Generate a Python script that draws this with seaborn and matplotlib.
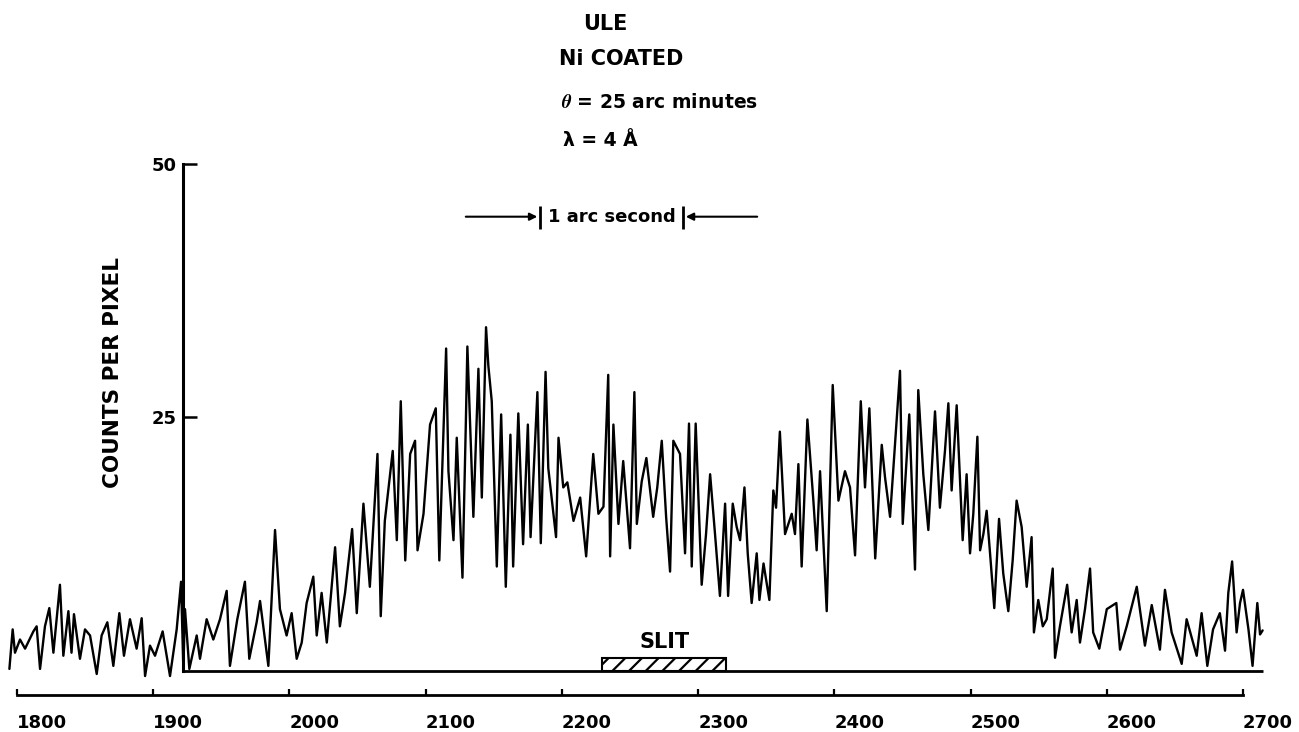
import matplotlib
matplotlib.use("Agg")
import matplotlib.pyplot as plt
import seaborn as sns
import pandas as pd
from matplotlib.patches import Rectangle

# ---------------- data ----------------
position = [
    1794.4, 1796.8, 1798.5, 1802.2, 1805.9, 1812.0, 1814.4, 1816.9, 1820.5, 1823.7,
    1826.7, 1831.5, 1834.0, 1837.7, 1840.0, 1841.8, 1846.2, 1849.9, 1853.6, 1858.5,
    1862.1, 1866.3, 1870.7, 1875.1, 1878.5, 1882.9, 1887.8, 1891.5, 1894.0, 1897.6,
    1901.3, 1906.9, 1912.3, 1917.2, 1920.4, 1922.1, 1923.3, 1926.5, 1931.9, 1934.3,
    1939.2, 1944.1, 1949.0, 1953.9, 1956.3, 1961.7, 1967.3, 1970.5, 1975.9, 1978.4,
    1984.5, 1989.4, 1993.0, 1997.9, 2001.6, 2005.3, 2009.0, 2012.6, 2017.5, 2020.0,
    2023.6, 2027.4, 2033.5, 2037.0, 2040.8, 2046.0, 2049.4, 2054.3, 2059.0, 2064.6,
    2067.0, 2070.0, 2075.8, 2078.8, 2081.7, 2085.0, 2088.6, 2092.2, 2094.0, 2098.4,
    2103.2, 2107.4, 2110.0, 2115.0, 2116.7, 2120.4, 2122.8, 2127.0, 2129.4, 2130.6,
    2135.0, 2138.7, 2141.2, 2144.3, 2146.0, 2148.5, 2152.2, 2155.4, 2158.8, 2162.2,
    2164.2, 2168.0, 2171.5, 2175.0, 2177.0, 2182.0, 2184.5, 2188.0, 2190.0, 2195.7,
    2197.5, 2201.0, 2204.0, 2208.5, 2213.4, 2217.8, 2223.0, 2226.8, 2230.5, 2234.0,
    2235.4, 2237.8, 2241.5, 2245.0, 2250.0, 2253.2, 2255.0, 2258.6, 2262.0, 2267.0,
    2270.0, 2273.3, 2276.5, 2279.4, 2281.8, 2286.7, 2290.4, 2293.3, 2295.3, 2298.2,
    2302.6, 2305.8, 2308.8, 2312.4, 2316.0, 2319.8, 2322.0, 2325.4, 2328.3, 2330.8,
    2334.0, 2336.4, 2339.3, 2343.0, 2345.0, 2348.0, 2352.3, 2355.2, 2357.2, 2360.0,
    2363.8, 2368.7, 2371.1, 2373.6, 2376.0, 2380.2, 2384.6, 2387.0, 2389.5, 2394.4,
    2398.8, 2403.0, 2407.8, 2411.5, 2415.2, 2419.4, 2422.5, 2425.7, 2430.0, 2434.8,
    2437.2, 2440.9, 2448.2, 2450.2, 2455.0, 2459.2, 2461.6, 2465.3, 2469.0, 2473.9,
    2477.5, 2481.2, 2483.7, 2486.1, 2489.8, 2494.2, 2497.1, 2499.6, 2502.0, 2505.0,
    2507.0, 2509.4, 2511.8, 2514.3, 2517.4, 2520.9, 2524.0, 2527.7, 2530.9, 2533.8,
    2537.5, 2541.2, 2544.8, 2546.5, 2549.7, 2553.0, 2555.9, 2560.3, 2562.0, 2565.6,
    2570.9, 2574.2, 2577.9, 2580.3, 2584.0, 2587.7, 2590.0, 2594.5, 2600.0, 2607.0,
    2609.7, 2614.6, 2622.0, 2628.0, 2633.0, 2639.0, 2642.7, 2647.6, 2655.0, 2658.6,
    2666.0, 2669.6, 2673.8, 2678.0, 2683.0, 2686.8, 2689.2, 2692.0, 2695.3, 2697.8,
    2700.0, 2704.0, 2707.0, 2710.5, 2712.5, 2714.4,
]
counts = [
    0.2, 4.1, 1.8, 3.1, 2.2, 3.9, 4.4, 0.2, 4.4, 6.2,
    1.8, 8.5, 1.5, 5.9, 1.8, 5.6, 1.2, 4.1, 3.5, -0.3,
    3.5, 4.8, 0.5, 5.7, 1.5, 5.1, 2.2, 5.2, -0.5, 2.5,
    1.5, 3.9, -0.5, 4.1, 8.8, 0.2, 6.1, 0.2, 3.5, 1.2,
    5.1, 3.1, 5.1, 7.9, 0.5, 5.1, 8.8, 1.2, 4.8, 6.9,
    0.5, 13.9, 6.1, 3.5, 5.7, 1.2, 2.8, 6.7, 9.3, 3.5,
    7.7, 2.8, 12.2, 4.4, 7.7, 14.0, 5.7, 16.5, 8.3, 21.4,
    5.4, 14.8, 21.7, 12.9, 26.6, 10.9, 21.4, 22.7, 11.9, 15.5,
    24.3, 25.9, 10.9, 31.8, 19.7, 12.9, 23.0, 9.2, 24.0, 32.0,
    15.2, 29.8, 17.1, 33.9, 30.1, 26.6, 10.3, 25.3, 8.3, 23.3,
    10.3, 25.4, 12.5, 24.3, 13.2, 27.5, 12.6, 29.5, 20.0, 13.2,
    23.0, 18.1, 18.6, 14.8, 17.1, 11.3, 21.4, 15.5, 16.2, 29.2,
    11.3, 24.3, 14.5, 20.7, 12.1, 27.5, 14.5, 18.7, 21.0, 15.2,
    18.1, 22.7, 15.2, 9.8, 22.7, 21.4, 11.6, 24.4, 10.3, 24.4,
    8.5, 13.5, 19.4, 13.5, 7.4, 16.5, 7.4, 16.5, 14.2, 12.9,
    18.1, 11.6, 6.7, 11.6, 7.0, 10.6, 7.0, 17.8, 16.1, 23.6,
    13.5, 15.5, 13.5, 20.4, 10.3, 24.8, 16.8, 11.9, 19.7, 5.9,
    28.2, 16.8, 19.7, 18.1, 11.4, 26.6, 18.1, 25.9, 11.1, 22.3,
    19.1, 15.2, 29.6, 14.5, 25.3, 10.0, 27.7, 19.4, 13.9, 25.6,
    16.1, 21.7, 26.4, 17.8, 26.2, 12.9, 19.4, 11.6, 15.5, 23.1,
    11.9, 13.5, 15.8, 11.6, 6.2, 15.0, 9.6, 5.9, 10.9, 16.8,
    14.2, 8.3, 13.2, 3.8, 7.0, 4.4, 5.1, 10.1, 1.3, 4.4,
    8.5, 3.8, 7.0, 2.8, 6.1, 10.1, 3.8, 2.2, 6.1, 6.7,
    2.1, 4.4, 8.3, 2.5, 6.5, 2.1, 8.0, 3.8, 0.7, 5.1,
    1.5, 5.7, 0.5, 4.1, 5.7, 2.0, 7.7, 10.8, 3.8, 6.7,
    8.0, 4.1, 0.5, 6.7, 3.6, 4.0,
]
x_ticks = [1800, 1900, 2000, 2100, 2200, 2300, 2400, 2500, 2600, 2700]
y_ticks = [25, 50]
y_label = "COUNTS PER PIXEL"
header_lines = ["ULE", "Ni COATED"]
angle_text = r"$\theta$ = 25 arc minutes"
wavelength_text = "λ = 4 Å"
scale_text = "1 arc second"
slit_label = "SLIT"
slit_start, slit_end, slit_height = 2229.5, 2320.5, 1.3
y_axis_at = 1921.9
scale_left, scale_right, scale_level = 2184.0, 2288.9, 44.8
arrow_left_from, arrow_right_from = 2127.4, 2345.4

# ---------------- style ----------------
sns.set_theme(style="white")
plt.rcParams["font.family"] = ["DejaVu Sans"]
plt.rcParams["font.weight"] = "bold"
plt.rcParams["mathtext.fontset"] = "stix"
plt.rcParams["hatch.linewidth"] = 1.6

W, H = 1299, 732
fig = plt.figure(figsize=(W / 100, H / 100), dpi=100)
fig.patch.set_facecolor("white")
ax = fig.add_axes([0, 0, 1, 1])
ax.set_facecolor("white")

df = pd.DataFrame({"position": position, "counts": counts})
sns.lineplot(data=df, x="position", y="counts", ax=ax, color="black",
             linewidth=1.7, estimator=None, sort=False)

ax.set_xlim(1787.5, 2741.1)
ax.set_ylim(-6.02, 66.17)

# axes
for s in ["top", "right"]:
    ax.spines[s].set_visible(False)
ax.spines["bottom"].set_position(("data", -2.37))
ax.spines["bottom"].set_bounds(x_ticks[0], x_ticks[-1])
ax.spines["bottom"].set_linewidth(2.0)
ax.spines["bottom"].set_color("black")
ax.spines["left"].set_position(("data", y_axis_at))
ax.spines["left"].set_bounds(0, y_ticks[-1])
ax.spines["left"].set_linewidth(2.2)
ax.spines["left"].set_color("black")

ax.set_xticks(x_ticks)
ax.set_yticks(y_ticks)
ax.tick_params(axis="x", bottom=True, direction="in", length=4, width=1.6,
               pad=13.5, labelsize=13, colors="black")
ax.tick_params(axis="y", left=True, direction="in", length=10, width=1.8,
               pad=5, labelsize=13, colors="black")
for lbl in ax.get_xticklabels():
    lbl.set_horizontalalignment("left")
    lbl.set_fontweight("bold")
for lbl in ax.get_yticklabels():
    lbl.set_fontweight("bold")

ax.set_xlabel("")
ax.set_ylabel(y_label, fontsize=15.5, fontweight="bold", color="black")
ax.yaxis.set_label_coords(123 / W, 1 - 372 / H)

# baseline under the profile
ax.hlines(0, y_axis_at, position[-1], color="black", linewidth=2.0)

# slit marker
ax.add_patch(Rectangle((slit_start, 0), slit_end - slit_start, slit_height,
                       facecolor="white", edgecolor="black", hatch="//",
                       linewidth=1.5, zorder=3))
ax.text((slit_start + slit_end) / 2, 2.9, slit_label, ha="center", va="center",
        fontsize=15, fontweight="bold", color="black")

# 1 arc second scale
ax.vlines([scale_left, scale_right], scale_level - 1.2, scale_level + 1.1,
          color="black", linewidth=2.0)
ax.annotate("", xy=(scale_left, scale_level), xytext=(arrow_left_from, scale_level),
            arrowprops=dict(arrowstyle="-|>", color="black", lw=1.5, mutation_scale=11))
ax.annotate("", xy=(scale_right, scale_level), xytext=(arrow_right_from, scale_level),
            arrowprops=dict(arrowstyle="-|>", color="black", lw=1.5, mutation_scale=11))
ax.text((scale_left + scale_right) / 2, scale_level, scale_text, ha="center",
        va="center", fontsize=13, fontweight="bold", color="black")

# header texts
def ftext(px, py, s, **kw):
    fig.text(px / W, 1 - py / H, s, ha="left", va="center", color="black", **kw)

ftext(583, 24, header_lines[0], fontsize=15, fontweight="bold")
ftext(559, 59, header_lines[1], fontsize=15, fontweight="bold")
ftext(561, 103, angle_text, fontsize=13.5, fontweight="bold")
ftext(563, 140, wavelength_text, fontsize=13.5, fontweight="bold")

fig.savefig("out.png", dpi=100, facecolor="white")
